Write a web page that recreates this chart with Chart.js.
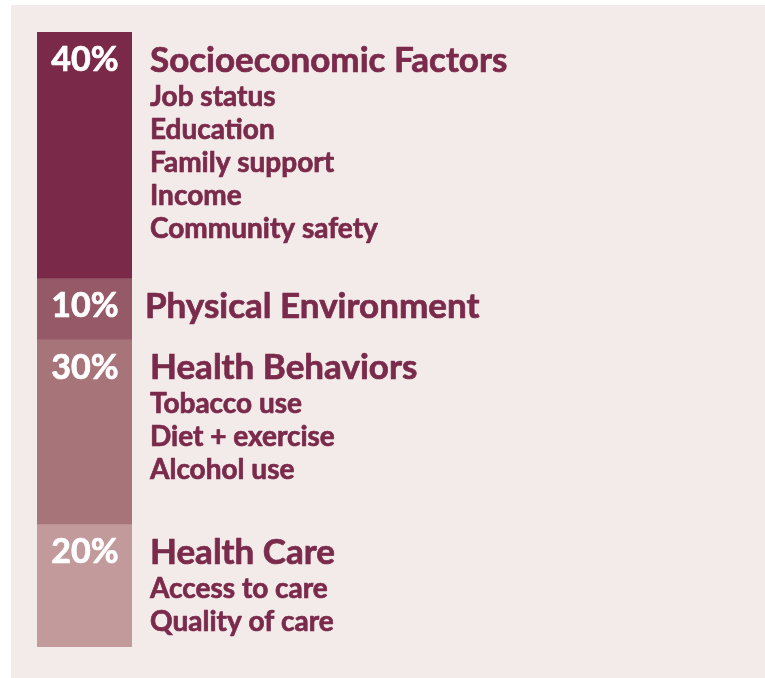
<!DOCTYPE html>
<html>
<head>
<meta charset="utf-8">
<script src="https://cdn.jsdelivr.net/npm/chart.js@4"></script>
<style>
  html, body { margin: 0; padding: 0; background: #ffffff; }
  #panel { position: absolute; left: 11px; top: 5px; width: 754px; height: 673px; background: #f3eaea; }
  #wrap { position: absolute; left: 0; top: 0; width: 765px; height: 678px; }
</style>
</head>
<body>
<div id="panel"></div>
<div id="wrap"><canvas id="c" width="765" height="678"></canvas></div>
<script>
// Determinants of health: share of each factor
const factors = ['Socioeconomic Factors', 'Physical Environment', 'Health Behaviors', 'Health Care'];
const shares = [40, 10, 30, 20];
const details = [
  ['Job status', 'Education', 'Family support', 'Income', 'Community safety'],
  [],
  ['Tobacco use', 'Diet + exercise', 'Alcohol use'],
  ['Access to care', 'Quality of care']
];
const colors = ['#7a2a48', '#955968', '#a77479', '#c29a9c'];
const textColor = '#7a2a4a';

// Fill plus a hairline stroke gives the text a heavier weight
function heavyText(ctx, text, x, y, color) {
  ctx.fillStyle = color;
  ctx.strokeStyle = color;
  ctx.lineWidth = 0.7;
  ctx.lineJoin = 'round';
  ctx.fillText(text, x, y);
  ctx.strokeText(text, x, y);
}

// Writes the percentage in each segment and the factor list beside it
const sideLabels = {
  id: 'sideLabels',
  afterDatasetsDraw(chart) {
    const ctx = chart.ctx;
    ctx.save();
    ctx.textBaseline = 'middle';
    chart.data.datasets.forEach((ds, i) => {
      const bar = chart.getDatasetMeta(i).data[0];
      const top = Math.min(bar.y, bar.base);
      const cy = top + 28.5;
      ctx.textAlign = 'center';
      ctx.font = 'bold 34px Lato';
      heavyText(ctx, ds.data[0] + '%', bar.x + 0.5, cy, '#ffffff');
      ctx.textAlign = 'left';
      const x = i === 1 ? bar.x + bar.width / 2 + 13 : bar.x + bar.width / 2 + 18;
      ctx.font = 'bold 35px Lato';
      heavyText(ctx, ds.label, x, cy, textColor);
      ctx.font = 'bold 28px Lato';
      details[i].forEach((t, k) => {
        heavyText(ctx, t, x, cy + 36 + k * 33.2, textColor);
      });
    });
    ctx.restore();
  }
};

new Chart(document.getElementById('c'), {
  type: 'bar',
  data: {
    labels: ['Health'],
    datasets: factors.map((f, i) => ({
      label: f,
      data: [shares[i]],
      backgroundColor: colors[i],
      borderWidth: 0,
      barPercentage: 1,
      categoryPercentage: 1
    }))
  },
  options: {
    responsive: false,
    animation: false,
    layout: { padding: { left: 37, right: 633, top: 32, bottom: 31 } },
    plugins: { legend: { display: false }, tooltip: { enabled: false } },
    scales: {
      x: { stacked: true, display: false },
      y: { stacked: true, display: false, reverse: true, min: 0, max: 100 }
    }
  },
  plugins: [sideLabels]
});
</script>
</body>
</html>
